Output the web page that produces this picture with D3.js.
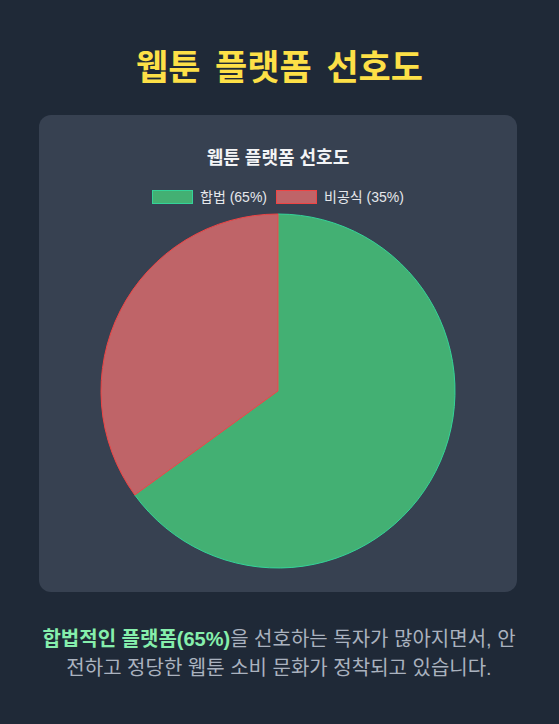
<!DOCTYPE html>
<html>
<head>
<meta charset="utf-8">
<script src="https://cdn.jsdelivr.net/npm/d3@7"></script>
<style>
  html, body { margin: 0; padding: 0; background: #1f2937; }
  svg { display: block; }
</style>
</head>
<body>
<div id="chart"></div>
<script>
var width = 559;
var height = 724;

// data
var labels = ["합법 (65%)", "비공식 (35%)"];
var values = [65, 35];
var fills = ["#43b073", "#bf6468"];
var borders = ["#34d399", "#ef4444"];

var pageTitle = "웹툰 플랫폼 선호도";
var chartTitle = "웹툰 플랫폼 선호도";
var noteStrong = "합법적인 플랫폼(65%)";
var noteRest1 = "을 선호하는 독자가 많아지면서, 안";
var noteLine2 = "전하고 정당한 웹툰 소비 문화가 정착되고 있습니다.";

var cjk = "'Liberation Sans', 'Noto Sans CJK KR', sans-serif";

var svg = d3.select("#chart").append("svg")
    .attr("width", width)
    .attr("height", height);

// page title
svg.append("text")
    .attr("x", width / 2)
    .attr("y", 80)
    .attr("text-anchor", "middle")
    .attr("font-family", cjk)
    .attr("font-weight", "bold")
    .attr("font-size", "35px")
    .attr("word-spacing", "5px")
    .attr("fill", "#fde047")
    .text(pageTitle);

// card
svg.append("rect")
    .attr("x", 39)
    .attr("y", 115)
    .attr("width", 478)
    .attr("height", 477)
    .attr("rx", 12)
    .attr("fill", "#374151");

// chart title
svg.append("text")
    .attr("x", 278)
    .attr("y", 164)
    .attr("text-anchor", "middle")
    .attr("font-family", cjk)
    .attr("font-weight", "bold")
    .attr("font-size", "18px")
    .attr("fill", "#f3f4f6")
    .text(chartTitle);

// legend
var legendX = [152, 276];
var legend = svg.selectAll(".legend")
    .data(labels)
    .enter().append("g")
    .attr("class", "legend")
    .attr("transform", function(d, i) { return "translate(" + legendX[i] + ",190)"; });

legend.append("rect")
    .attr("x", 0.5)
    .attr("y", 0.5)
    .attr("width", 40)
    .attr("height", 13)
    .attr("fill", function(d, i) { return fills[i]; })
    .attr("stroke", function(d, i) { return borders[i]; })
    .attr("stroke-width", 1);

legend.append("text")
    .attr("x", 48)
    .attr("y", 12)
    .attr("font-family", cjk)
    .attr("font-size", "14px")
    .attr("fill", "#e5e7eb")
    .text(function(d) { return d; });

// pie
var cx = 278, cy = 391, radius = 177;
var pie = d3.pie().sort(null).value(function(d) { return d; });
var arc = d3.arc().innerRadius(0).outerRadius(radius);

svg.append("g")
    .attr("transform", "translate(" + cx + "," + cy + ")")
    .selectAll("path")
    .data(pie(values))
    .enter().append("path")
    .attr("d", arc)
    .attr("fill", function(d, i) { return fills[i]; })
    .attr("stroke", function(d, i) { return borders[i]; })
    .attr("stroke-width", 1);

// note
var note = svg.append("text")
    .attr("text-anchor", "middle")
    .attr("font-family", cjk)
    .attr("font-size", "20px")
    .attr("fill", "#aab2bf");

var l1 = note.append("tspan").attr("x", 279).attr("y", 646);
l1.append("tspan")
    .attr("font-weight", "bold")
    .attr("fill", "#86efac")
    .text(noteStrong);
l1.append("tspan").text(noteRest1);

note.append("tspan")
    .attr("x", 279)
    .attr("y", 675)
    .text(noteLine2);
</script>
</body>
</html>
